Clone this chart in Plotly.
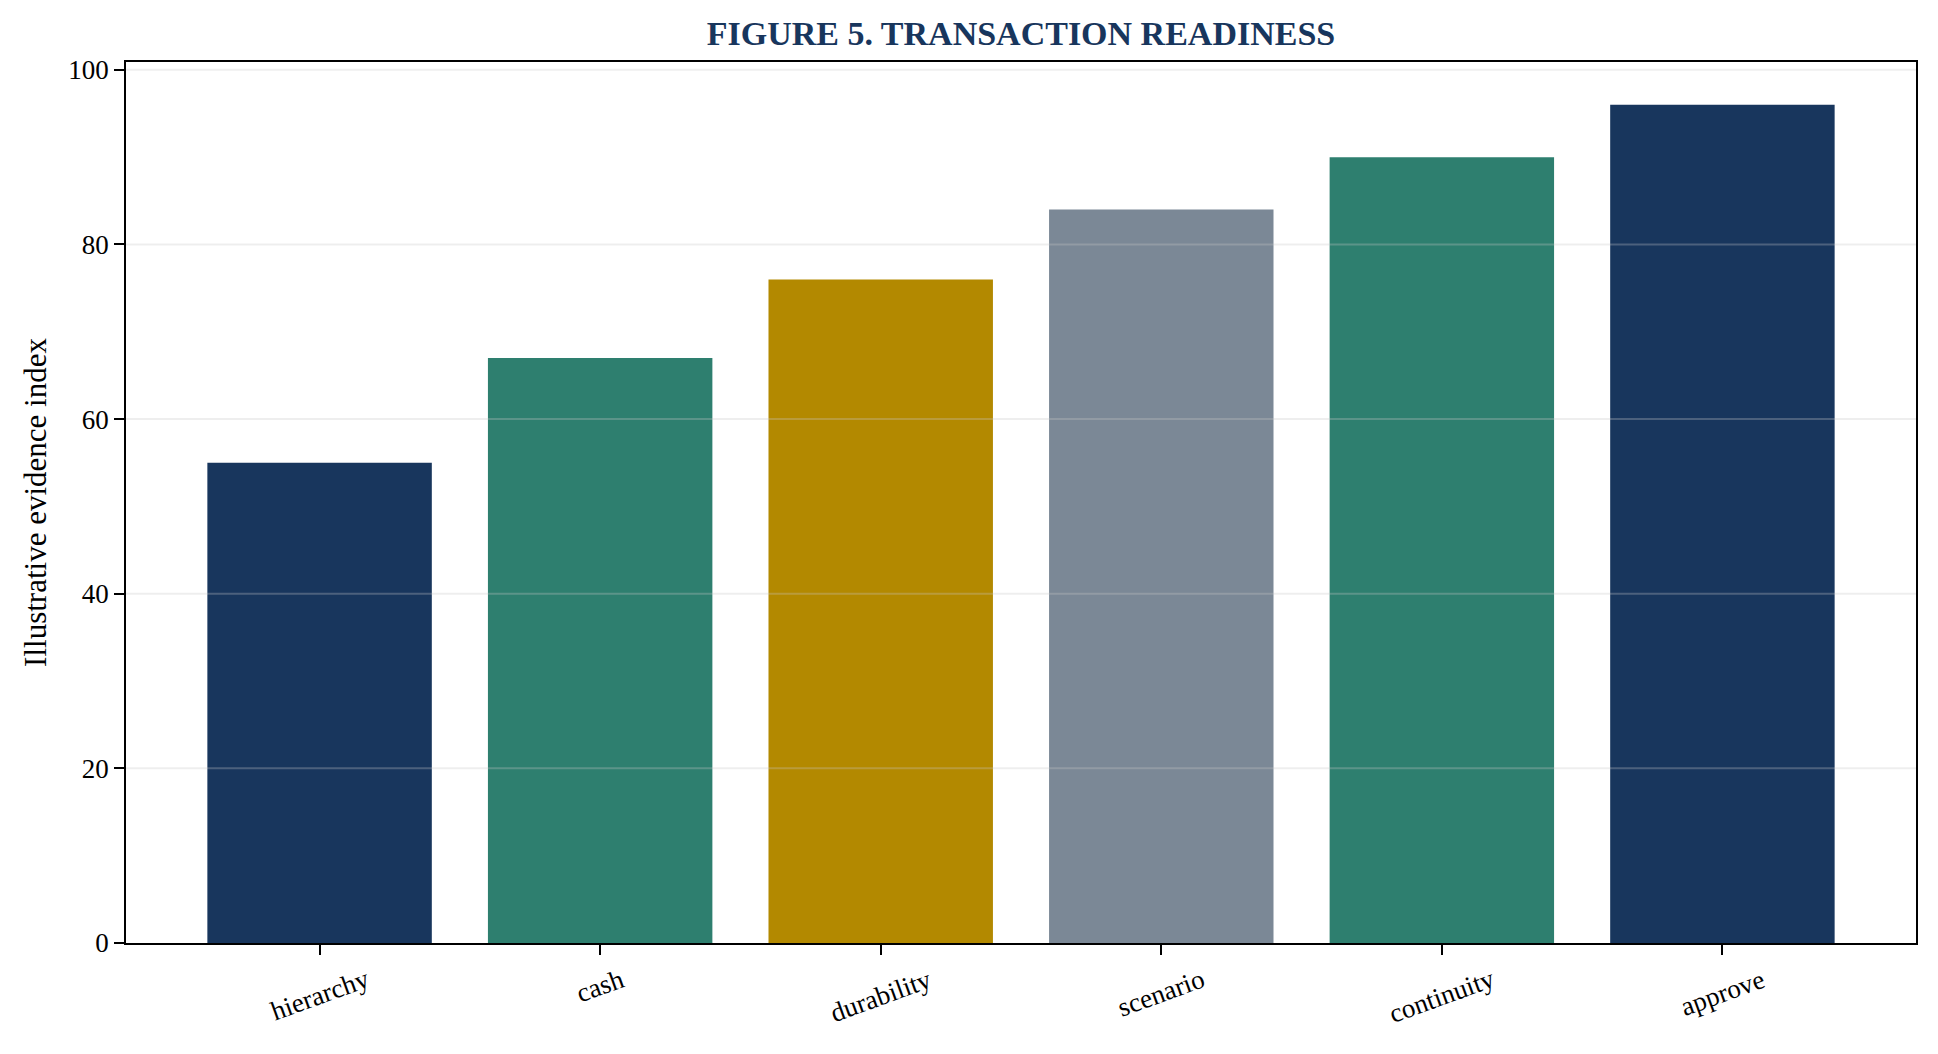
import plotly.graph_objects as go

categories = ["hierarchy", "cash", "durability", "scenario", "continuity", "approve"]
values = [55, 67, 76, 84, 90, 96]
bar_colors = ["#18365d", "#2e7f6f", "#b38900", "#7b8896", "#2e7f6f", "#18365d"]
y_ticks = [0, 20, 40, 60, 80, 100]

font_family = "Liberation Serif"

fig = go.Figure(
    go.Bar(
        x=categories,
        y=values,
        marker=dict(color=bar_colors, line=dict(width=0)),
        width=0.8,
    )
)

# page has an 8px body margin, so the figure is a bit smaller than the window
fig.update_layout(
    width=1922,
    height=1038,
    paper_bgcolor="white",
    plot_bgcolor="white",
    showlegend=False,
    font=dict(family=font_family, size=27, color="black"),
    margin=dict(l=118, r=14, t=54, b=103),
    title=dict(
        text="<b>FIGURE 5. TRANSACTION READINESS</b>",
        font=dict(family=font_family, size=34, color="#18365d"),
        x=0.5,
        xref="paper",
        xanchor="center",
        y=1 - 25 / 1038,
        yanchor="middle",
    ),
)

# grid drawn over the bars, like the reference
for v in y_ticks[1:]:
    fig.add_hline(y=v, line=dict(color="rgba(200,200,200,0.3)", width=2), layer="above")

# rotated x labels centred under each tick
for c in categories:
    fig.add_annotation(
        x=c, y=0, xref="x", yref="paper",
        text=c, showarrow=False, textangle=-20,
        xanchor="center", yanchor="top", yshift=-18,
        font=dict(family=font_family, size=27, color="black"),
    )

fig.update_xaxes(
    range=[-0.69, 5.69],
    showline=True,
    linecolor="black",
    linewidth=1.5,
    mirror=True,
    ticks="outside",
    ticklen=10,
    tickwidth=1.5,
    tickcolor="black",
    showticklabels=False,
    showgrid=False,
)

fig.update_yaxes(
    range=[0, 100.9],
    tickvals=y_ticks,
    showline=True,
    linecolor="black",
    linewidth=1.5,
    mirror=True,
    ticks="outside",
    ticklen=10,
    tickwidth=1.5,
    tickcolor="black",
    showgrid=False,
    zeroline=False,
    title=dict(text="Illustrative evidence index", font=dict(size=31), standoff=12),
)

fig.write_html("out.html")
